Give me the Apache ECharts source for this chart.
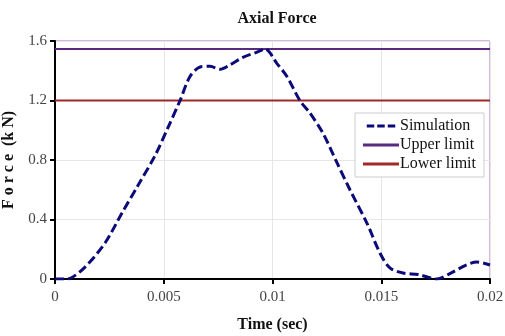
<!DOCTYPE html>
<html>
<head>
<meta charset="utf-8">
<script src="https://cdn.jsdelivr.net/npm/echarts@6/dist/echarts.min.js"></script>
<style>
  html, body { margin: 0; padding: 0; background: #fff; }
  #chart { width: 505px; height: 336px; }
</style>
</head>
<body>
<div id="chart"></div>
<script>
// time (sec) and simulated axial force (kN)
var simTime = [0, 0.0004, 0.0007, 0.00138, 0.0023, 0.00308, 0.00382, 0.0046, 0.0052, 0.00575,
  0.0062, 0.00667, 0.00713, 0.00759, 0.00805, 0.00864, 0.00929, 0.00966, 0.0102, 0.01067,
  0.01126, 0.01172, 0.01232, 0.01297, 0.01356, 0.01434, 0.01494, 0.0154, 0.016, 0.0167,
  0.01756, 0.0182, 0.0189, 0.0194, 0.0200];
var simForce = [0, 0, 0.005, 0.08, 0.242, 0.444, 0.63, 0.83, 1.02, 1.20,
  1.36, 1.425, 1.43, 1.41, 1.44, 1.49, 1.525, 1.546, 1.45, 1.36,
  1.20, 1.116, 0.98, 0.78, 0.60, 0.376, 0.175, 0.074, 0.04, 0.03,
  0.0, 0.04, 0.094, 0.114, 0.094];
var limitTime = [0, 0.02];
var upperLimit = 1.546;
var lowerLimit = 1.2;
var xTicks = [0, 0.005, 0.01, 0.015, 0.02];
var yTicks = [0, 0.4, 0.8, 1.2, 1.6];

var font = '"Liberation Serif", "DejaVu Serif", serif';
var chart = echarts.init(document.getElementById('chart'));

function pairs(xs, ys) {
  return xs.map(function (x, i) { return [x, Array.isArray(ys) ? ys[i] : ys]; });
}

var dashIcon = 'path://M0,0h10v4h-10z M14,0h10v4h-10z M28,0h10v4h-10z';
var solidIcon = 'path://M0,0h38v3h-38z';

chart.setOption({
  backgroundColor: '#fff',
  animation: false,
  title: {
    text: 'Axial Force',
    left: 272,
    textAlign: 'center',
    top: 6,
    textStyle: { fontFamily: font, fontSize: 16, fontWeight: 'bold', color: '#111' }
  },
  grid: {
    left: 55, right: 15, top: 41, bottom: 57,
    outerBoundsMode: 'none',
    containLabel: false,
    show: true, borderColor: '#b070c0', borderWidth: 1
  },
  legend: {
    orient: 'vertical',
    left: 355, top: 113,
    padding: [5, 8, 5, 8],
    itemGap: 3,
    itemWidth: 36, itemHeight: 3,
    backgroundColor: '#fff',
    borderColor: '#ccc', borderWidth: 1,
    textStyle: { fontFamily: font, fontSize: 16, color: '#111', padding: [0, 0, 0, -4] },
    data: [
      { name: 'Simulation', icon: dashIcon },
      { name: 'Upper limit', icon: solidIcon },
      { name: 'Lower limit', icon: solidIcon }
    ]
  },
  xAxis: {
    type: 'value',
    min: 0, max: 0.02, interval: 0.005,
    name: 'Time (sec)',
    nameLocation: 'middle',
    nameGap: 38,
    nameTextStyle: { fontFamily: font, fontSize: 16, fontWeight: 'bold', color: '#111' },
    axisLine: { lineStyle: { color: '#000', width: 2 } },
    axisTick: { show: true, length: 5, inside: false, lineStyle: { color: '#000', width: 2 } },
    axisLabel: {
      fontFamily: font, fontSize: 15, color: '#444', margin: 11,
      formatter: function (v) { return String(+v.toFixed(4)); }
    },
    splitLine: { show: true, lineStyle: { color: '#e6e6e6', width: 1 } }
  },
  yAxis: {
    type: 'value',
    min: 0, max: 1.6, interval: 0.4,
    name: 'F o r c e  (k N)',
    nameLocation: 'middle',
    nameGap: 33,
    nameTextStyle: { fontFamily: font, fontSize: 16, fontWeight: 'bold', color: '#111' },
    axisLine: { lineStyle: { color: '#000', width: 2 } },
    axisTick: { show: true, length: 5, lineStyle: { color: '#000', width: 2 } },
    axisLabel: {
      fontFamily: font, fontSize: 15, color: '#444', margin: 8,
      formatter: function (v) { return String(+v.toFixed(1)); }
    },
    splitLine: { show: true, lineStyle: { color: '#e6e6e6', width: 1 } }
  },
  series: [
    {
      name: 'Upper limit',
      type: 'line',
      showSymbol: false, symbol: 'none',
      data: pairs(limitTime, upperLimit),
      lineStyle: { color: '#5a2a80', width: 2 },
      itemStyle: { color: '#5a2a80' },
      z: 3
    },
    {
      name: 'Lower limit',
      type: 'line',
      showSymbol: false, symbol: 'none',
      data: pairs(limitTime, lowerLimit),
      lineStyle: { color: '#a02828', width: 2 },
      itemStyle: { color: '#a02828' },
      z: 3
    },
    {
      name: 'Simulation',
      type: 'line',
      smooth: 0.3,
      showSymbol: false, symbol: 'none',
      data: pairs(simTime, simForce),
      lineStyle: { color: '#0a0a78', width: 3, type: [9, 4] },
      itemStyle: { color: '#0a0a78' },
      z: 4
    }
  ]
});
</script>
</body>
</html>
